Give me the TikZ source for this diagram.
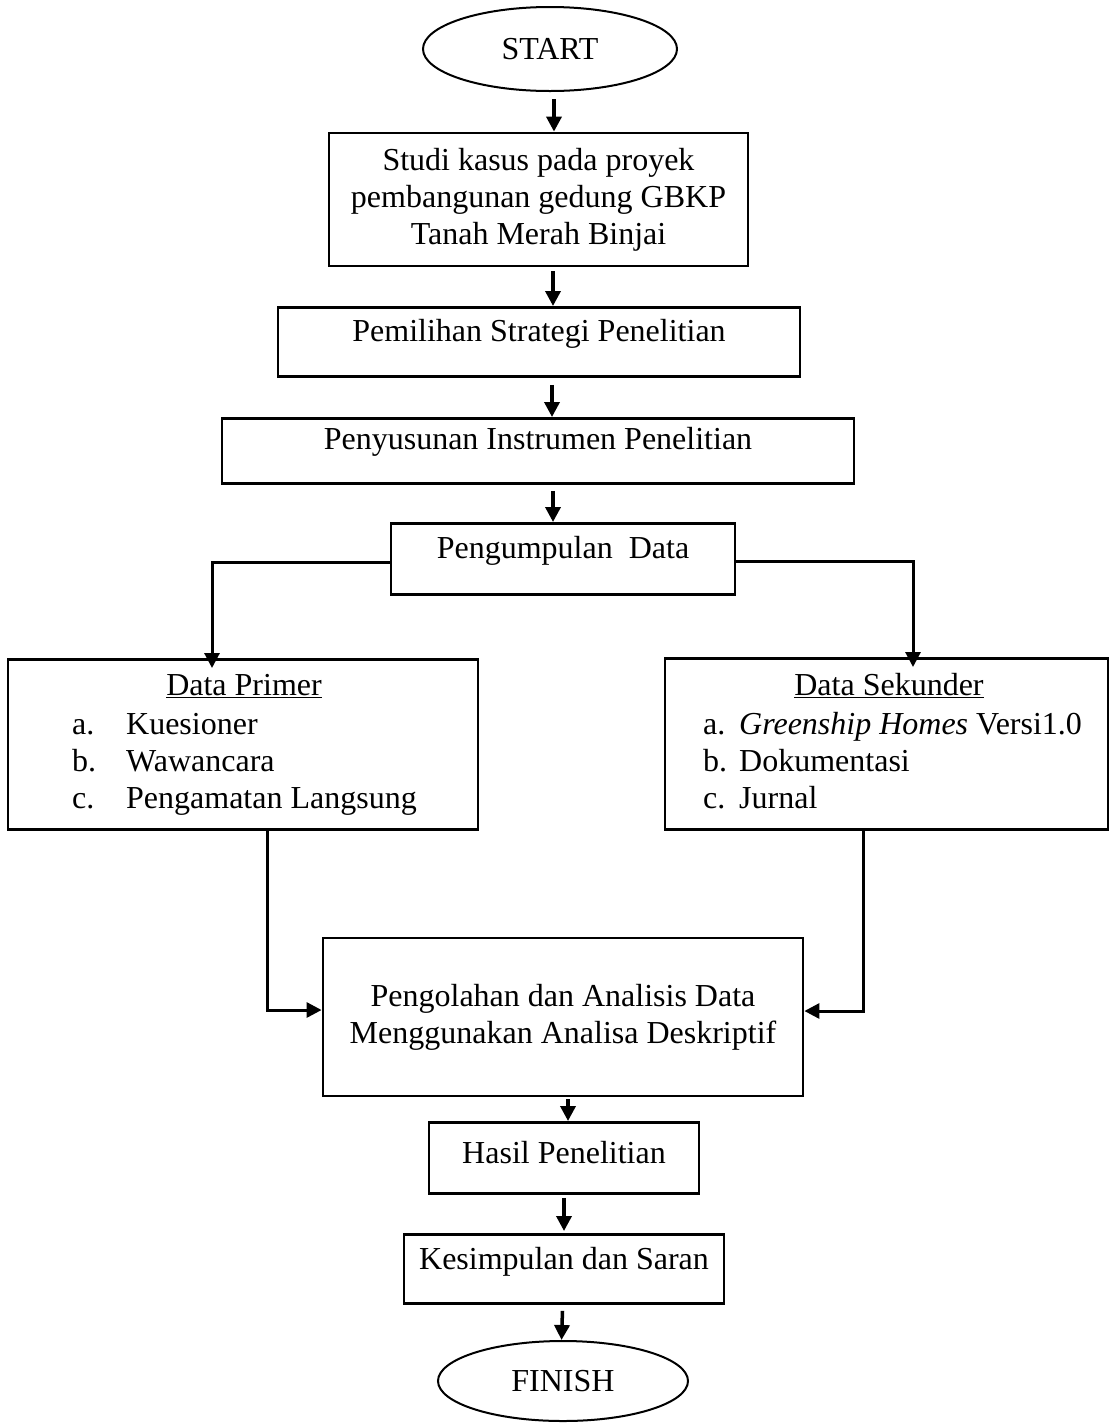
\documentclass[tikz,border=0pt]{standalone}
\usepackage{fontspec}
\setmainfont{Liberation Serif}
\usetikzlibrary{arrows.meta,shapes.geometric}

\begin{document}
\fontsize{32}{37}\selectfont
\begin{tikzpicture}[x=1pt,y=-1pt,
  box/.style={draw=black,line width=2.8pt,rectangle,inner sep=0pt,align=center},
  oval/.style={draw=black,line width=2pt,ellipse,inner sep=0pt},
  arr/.style={line width=3.5pt,-{Triangle[width=15pt,length=15pt]}},
  elbow/.style={line width=3pt,-{Triangle[width=15pt,length=15pt]}}]
\useasboundingbox[fill=white] (0,0) rectangle (1110,1425);
% Drawing boxes
\node[oval,minimum width=254pt,minimum height=84pt] (start) at (550,49) {START};
\node[box,minimum width=419pt,minimum height=133pt] (studi) at (538.5,199.5)
  {Studi kasus pada proyek\\pembangunan gedung GBKP\\Tanah Merah Binjai};
\node[box,anchor=north,minimum width=522pt,text height=34pt,text depth=35pt] (strategi) at (539,306)
  {Pemilihan Strategi Penelitian};
\node[box,anchor=north,minimum width=632pt,text height=31pt,text depth=34pt] (instrumen) at (538,417)
  {Penyusunan Instrumen Penelitian};
\node[box,anchor=north,minimum width=344pt,text height=35pt,text depth=36pt] (kumpul) at (563,522)
  {Pengumpulan\ \ Data};
% Data primer and sekunder
\node[box,anchor=north,minimum width=470pt,minimum height=170pt] (primer) at (243,658) {};
\node (primerhead) at (244,686) {\underline{Data Primer}};
\node[anchor=base west,inner sep=0pt] (primerlist) at (72,734)
  {\begin{tabular}[t]{@{}l@{\hspace{30pt}}l@{}}a. & Kuesioner\\ b. & Wawancara\\ c. & Pengamatan Langsung\end{tabular}};
\node[box,anchor=north,minimum width=443pt,minimum height=171pt] (sekunder) at (886.5,657) {};
\node (sekunderhead) at (889,686) {\underline{Data Sekunder}};
\node[anchor=base west,inner sep=0pt] (sekunderlist) at (703,734)
  {\begin{tabular}[t]{@{}l@{\hspace{12pt}}l@{}}a. & \textit{Greenship Homes} Versi1.0\\ b. & Dokumentasi\\ c. & Jurnal\end{tabular}};
% Analysis and results
\node[box,minimum width=480pt,minimum height=158pt] (olah) at (563,1017)
  {Pengolahan dan Analisis Data\\Menggunakan Analisa Deskriptif};
\node[box,anchor=north,minimum width=270pt,text height=41pt,text depth=30pt] (hasil) at (564,1121)
  {Hasil Penelitian};
\node[box,anchor=north,minimum width=320pt,text height=35pt,text depth=34pt] (simpul) at (564,1233)
  {Kesimpulan dan Saran};
\node[oval,minimum width=250pt,minimum height=80pt] (finish) at (563,1381) {FINISH};
% Drawing arrows
\draw[arr] ([xshift=4pt,yshift=-7pt]start.south) -- ([xshift=15.5pt]studi.north);
\draw[arr] ([xshift=14.5pt,yshift=-4pt]studi.south) -- ([xshift=14pt]strategi.north);
\draw[arr] ([xshift=13pt,yshift=-7pt]strategi.south) -- ([xshift=14pt]instrumen.north);
\draw[arr] ([xshift=15pt,yshift=-6pt]instrumen.south) -- ([xshift=-10pt]kumpul.north);
\draw[elbow] ([yshift=-4pt]kumpul.west) -| ([xshift=-31pt,yshift=-10pt]primer.north);
\draw[elbow] ([yshift=-3pt]kumpul.east) -| ([xshift=26.5pt,yshift=-10pt]sekunder.north);
\draw[elbow] ([xshift=24pt]primer.south) |- ([yshift=7pt]olah.west);
\draw[elbow] ([xshift=-23.5pt]sekunder.south) |- ([yshift=6pt]olah.east);
\draw[arr] ([xshift=5pt,yshift=-2pt]olah.south) -- ([xshift=4pt]hasil.north);
\draw[arr] ([yshift=-3pt]hasil.south) -- ([yshift=2pt]simpul.north);
\draw[arr] ([xshift=-1.5pt,yshift=-6pt]simpul.south) -- ([xshift=-1.5pt]finish.north);
\end{tikzpicture}
\end{document}
